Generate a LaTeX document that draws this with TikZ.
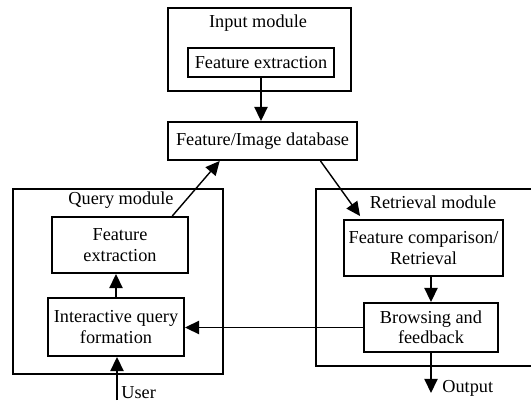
\documentclass[tikz,border=0pt]{standalone}
\usepackage{fontspec}
\setmainfont{Liberation Serif}
\usetikzlibrary{arrows.meta}

\begin{document}
\begin{tikzpicture}[x=0.02cm, y=-0.02cm, font=\fontsize{10.4}{11.6}\selectfont,
                    module/.style={draw, line width=1.1pt, inner sep=0pt},
                    block/.style={draw, line width=1.1pt, align=center, inner sep=0pt},
                    link/.style={line width=0.8pt, -{Triangle[length=8pt, width=7.5pt]}}]
                    \useasboundingbox (0,0) rectangle (531,402);
                    \node[module, minimum width=3.66cm, minimum height=1.66cm] (inmod) at (259.5,49.5) {};
                    \node (inlabel) at (258,23) {Input module};
                    \node[block, minimum width=2.92cm, minimum height=0.58cm] (infe) at (261,62.5) {Feature extraction};
                    \node[block, minimum width=3.78cm, minimum height=0.76cm] (db) at (262.5,141) {Feature/Image database};
                    \node[module, minimum width=4.2cm, minimum height=3.7cm] (qmod) at (118,281.5) {};
                    \node (qlabel) at (121,200) {Query module};
                    \node[block, minimum width=2.72cm, minimum height=1.12cm] (qfe) at (120,245) {Feature\\extraction};
                    \node[block, minimum width=2.72cm, minimum height=1.16cm] (iqf) at (116,327) {Interactive query\\formation};
                    \draw[line width=1.1pt] (531,189) -- (316,189) -- (316,366) -- (531,366);
                    \node (rlabel) at (433,202) {Retrieval module};
                    \node[block, minimum width=3.18cm, minimum height=1.12cm] (fcr) at (423.5,248) {Feature comparison/\\Retrieval};
                    \node[block, minimum width=2.68cm, minimum height=0.98cm] (bf) at (431,327.5) {Browsing and\\feedback};
                    \coordinate (user) at (117,400);
                    \node[anchor=west, inner sep=0pt] (userlabel) at (121,393) {User};
                    \coordinate (out) at (431,393);
                    \node[anchor=west, inner sep=0pt] (outlabel) at (442,388) {Output};
                    \draw[link] (infe.south) -- (infe.south |- db.north);
                    \draw[link] (qfe.29) -- (db.205);
                    \draw[link] (db.-19) -- ([xshift=0.34cm, yshift=0.06cm]fcr.north west);
                    \draw[link] (iqf.north) -- (iqf.north |- qfe.south);
                    \draw[link] (user) -- (user |- iqf.south);
                    \draw[link] (fcr.south -| bf.north) -- (bf.north);
                    \draw[link] (bf.west) -- (bf.west -| iqf.east);
                    \draw[link] (bf.south) -- (out);
                \end{tikzpicture}
\end{document}
